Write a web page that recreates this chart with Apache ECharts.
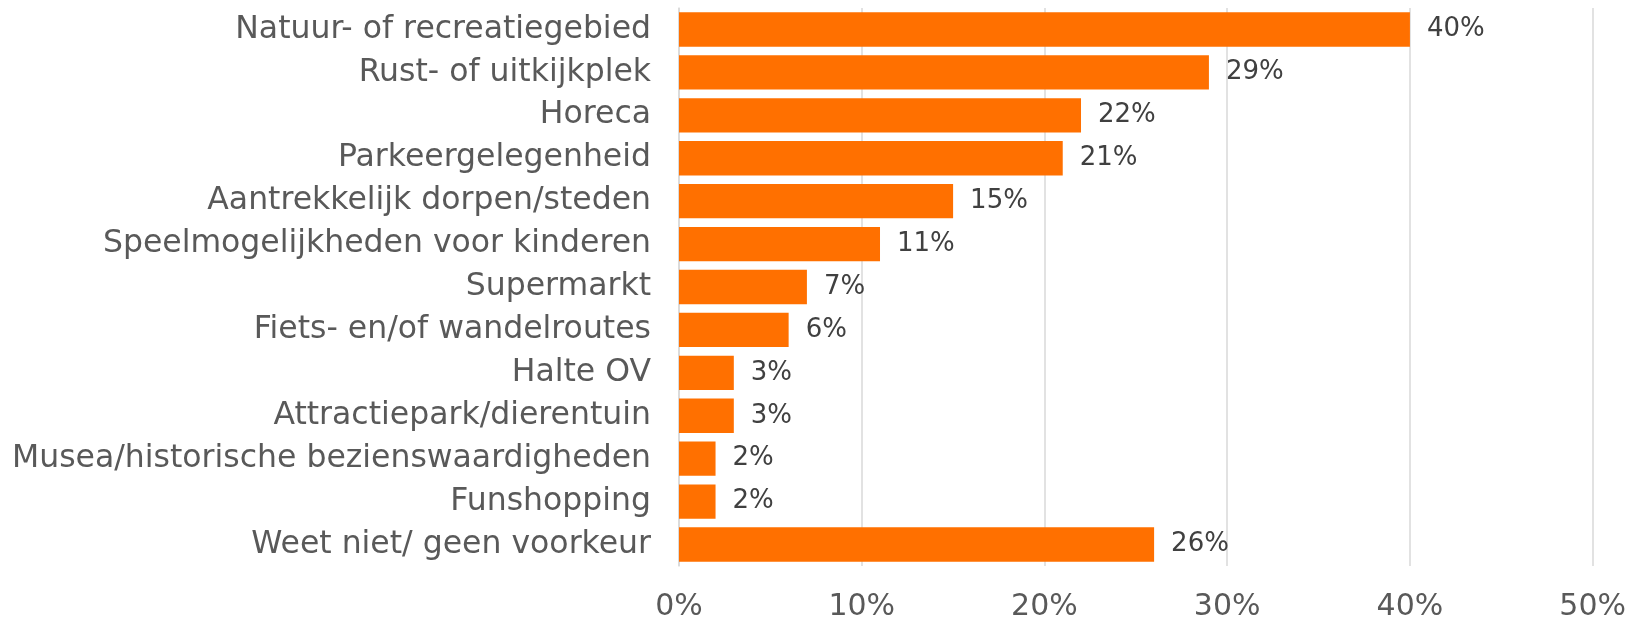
<!DOCTYPE html>
<html>
<head>
<meta charset="utf-8">
<style>
	html, body { margin: 0; padding: 0; background: #fff; }
	#main { width: 1629px; height: 623px; }
</style>
<script src="https://cdn.jsdelivr.net/npm/echarts@6/dist/echarts.min.js"></script>
</head>
<body>
<div id="main"></div>
<script>
var categories = [
	"Natuur- of recreatiegebied",
	"Rust- of uitkijkplek",
	"Horeca",
	"Parkeergelegenheid",
	"Aantrekkelijk dorpen/steden",
	"Speelmogelijkheden voor kinderen",
	"Supermarkt",
	"Fiets- en/of wandelroutes",
	"Halte OV",
	"Attractiepark/dierentuin",
	"Musea/historische bezienswaardigheden",
	"Funshopping",
	"Weet niet/ geen voorkeur"
];
var values = [40, 29, 22, 21, 15, 11, 7, 6, 3, 3, 2, 2, 26];
var xTicks = [0, 10, 20, 30, 40, 50];

var font = "'DejaVu Sans', sans-serif";
var chart = echarts.init(document.getElementById('main'));

chart.setOption({
	backgroundColor: '#ffffff',
	animation: false,
	grid: { left: 679, right: 36, top: 8, bottom: 57 },
	xAxis: {
		type: 'value',
		min: xTicks[0],
		max: xTicks[xTicks.length - 1],
		interval: 10,
		axisLine: { show: false },
		axisTick: { show: false },
		splitLine: { lineStyle: { color: '#d9d9d9', width: 1.5 } },
		axisLabel: {
			formatter: '{value}%',
			fontSize: 30,
			fontFamily: font,
			color: '#595959',
			margin: 26
		}
	},
	yAxis: {
		type: 'category',
		inverse: true,
		data: categories,
		axisLine: { show: true, lineStyle: { color: '#d9d9d9', width: 1.5 } },
		axisTick: { show: false },
		axisLabel: {
			fontSize: 31.5,
			fontFamily: font,
			color: '#595959',
			margin: 28
		}
	},
	series: [{
		type: 'bar',
		data: values,
		barCategoryGap: '20%',
		itemStyle: { color: '#ff7000' },
		label: {
			show: true,
			position: 'right',
			distance: 17,
			formatter: '{c}%',
			fontSize: 26,
			fontFamily: font,
			color: '#404040'
		}
	}]
});
</script>
</body>
</html>
